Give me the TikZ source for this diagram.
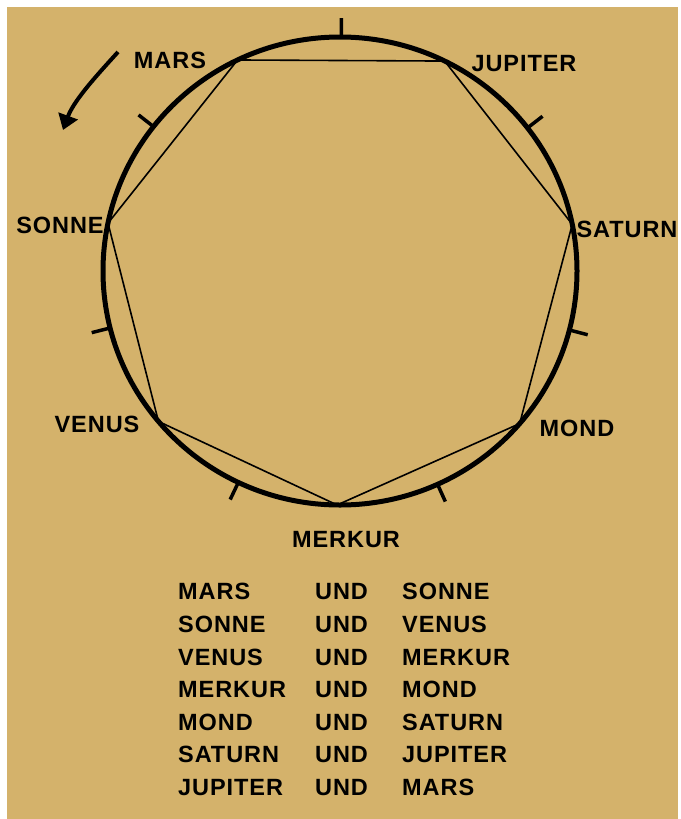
\documentclass[tikz,border=0pt]{standalone}
\usepackage{fontspec}
\setmainfont{Liberation Sans}
\newfontfamily\labfont[LetterSpace=4]{Liberation Sans}
\usetikzlibrary{arrows.meta}
\definecolor{bg}{HTML}{D4B26B}
\begin{document}
\begin{tikzpicture}[x=1pt,y=-1pt,
  lbl/.style={font=\labfont\fontsize{23.5}{28}\selectfont\bfseries, inner sep=0pt, text=black, anchor=base},
  rim/.style={line width=5pt},
  chord/.style={line width=1.6pt, line join=round},
  tick/.style={line width=3.5pt},
  turn/.style={line width=4pt, -{Triangle[width=20pt,length=15pt]}}]
\useasboundingbox (0,0) rectangle (680,819);
\fill[white] (0,0) rectangle (680,819);
\fill[bg] (7,7) rectangle (678,819);
% circle
\draw[rim] (340,271) ellipse [x radius=237pt, y radius=234pt];
% vertices
\foreach \n/\a in {mars/115.6, jupiter/63.8, saturn/11.5, mond/-40.7, merkur/-90.7, venus/220, sonne/168.2}
  \coordinate (\n) at ({340+237*cos(\a)},{271-234*sin(\a)});
% ticks
\foreach \i/\a in {1/89.7, 2/37.7, 3/-14.6, 4/-65.7, 5/244.6, 6/194.1, 7/141.9}{
  \coordinate (ti\i) at ({340+237*cos(\a)},{271-234*sin(\a)});
  \coordinate (to\i) at ({340+256*cos(\a)},{271-253*sin(\a)});
  \draw[tick] (ti\i) -- (to\i);
}
% heptagon
\draw[chord] (mars) -- (jupiter) -- (saturn) -- (mond) -- (merkur) -- (venus) -- (sonne) -- cycle;
% arrow
\coordinate (arrS) at (118,52);
\coordinate (arrE) at (63,130);
\draw[turn] (arrS) .. controls (98,74) and (74,100) .. (arrE);
% labels (baseline = centre + 8.4)
\node[lbl] (lmars) at (170,68.4) {MARS};
\node[lbl] (ljup) at (524,71.4) {JUPITER};
\node[lbl] (lson) at (60,233.4) {SONNE};
\node[lbl] (lsat) at (627,237.4) {SATURN};
\node[lbl] (lven) at (97,432.4) {VENUS};
\node[lbl] (lmon) at (577,436.4) {MOND};
\node[lbl] (lmer) at (346,547.4) {MERKUR};
% table
\foreach \r/\y/\p/\q in {1/599.4/MARS/SONNE, 2/632.4/SONNE/VENUS, 3/665.4/VENUS/MERKUR, 4/697.4/MERKUR/MOND, 5/730.4/MOND/SATURN, 6/762.4/SATURN/JUPITER, 7/795.4/JUPITER/MARS}{
  \node[lbl, anchor=base west] (ta\r) at (178,\y) {\p};
  \node[lbl, anchor=base west] (tb\r) at (315,\y) {UND};
  \node[lbl, anchor=base west] (tc\r) at (402,\y) {\q};
}
\end{tikzpicture}
\end{document}
